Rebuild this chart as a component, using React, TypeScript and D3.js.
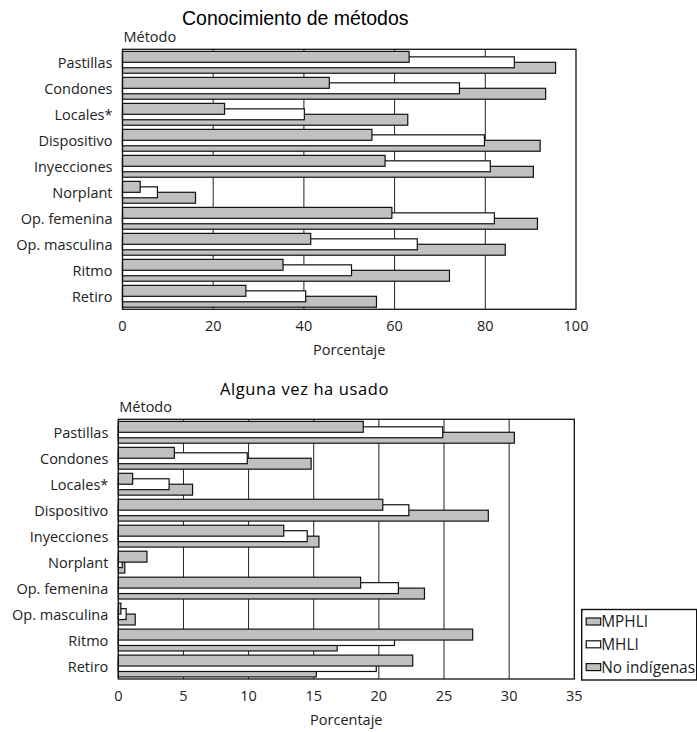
import React from "react";
import * as d3 from "d3";

const categories = [
  "Pastillas",
  "Condones",
  "Locales*",
  "Dispositivo",
  "Inyecciones",
  "Norplant",
  "Op. femenina",
  "Op. masculina",
  "Ritmo",
  "Retiro",
];
const seriesNames = ["MPHLI", "MHLI", "No indígenas"];
const seriesFills = ["#c0c0c0", "#ffffff", "#c0c0c0"];

// Conocimiento de métodos (%)
const knowMPHLI = [63.2, 45.6, 22.5, 55.0, 57.9, 3.9, 59.4, 41.5, 35.4, 27.2];
const knowMHLI = [86.4, 74.3, 40.1, 79.8, 81.1, 7.7, 82.0, 65.0, 50.5, 40.4];
const knowNoInd = [95.5, 93.3, 62.9, 92.1, 90.6, 16.1, 91.5, 84.4, 72.1, 56.0];

// Alguna vez ha usado (%)
const usedMPHLI = [18.8, 4.3, 1.1, 20.3, 12.7, 2.2, 18.6, 0.2, 27.2, 22.6];
const usedMHLI = [24.9, 9.9, 3.9, 22.3, 14.5, 0.3, 21.5, 0.6, 21.2, 19.8];
const usedNoInd = [30.4, 14.8, 5.7, 28.4, 15.4, 0.5, 23.5, 1.3, 16.8, 15.2];

const knowTicks = [0, 20, 40, 60, 80, 100];
const usedTicks = [0, 5, 10, 15, 20, 25, 30, 35];

const LABEL_FONT = "'Open Sans', sans-serif";

type PanelProps = {
  left: number;
  right: number;
  top: number;
  bottom: number;
  max: number;
  ticks: number[];
  series: number[][];
  title: React.ReactNode;
};

function Panel({ left, right, top, bottom, max, ticks, series, title }: PanelProps) {
  const x = d3.scaleLinear().domain([0, max]).range([left, right]);
  const y = d3
    .scaleBand<string>()
    .domain(categories)
    .range([top, bottom])
    .paddingInner(0.16)
    .paddingOuter(0.08);
  const bh = y.bandwidth() / 2;
  // bars overlap by half their height; later series are drawn first
  const order = series.map((_, i) => i).reverse();
  const cx = (left + right) / 2;

  return (
    <g>
      {title}
      <text x={left + 1} y={top - 7.5} fontFamily={LABEL_FONT} fontSize={14.5} fill="#222">
        Método
      </text>
      {ticks.slice(1, -1).map((t) => (
        <line key={t} x1={x(t)} x2={x(t)} y1={top} y2={bottom} stroke="#222" strokeWidth={1} />
      ))}
      {order.map((si) =>
        categories.map((c, ci) => (
          <rect
            key={`${si}-${c}`}
            x={x(0)}
            y={(y(c) as number) + (si * bh) / 2}
            width={x(series[si][ci]) - x(0)}
            height={bh}
            fill={seriesFills[si]}
            stroke="#111"
            strokeWidth={1.2}
          />
        ))
      )}
      <rect
        x={left}
        y={top}
        width={right - left}
        height={bottom - top}
        fill="none"
        stroke="#111"
        strokeWidth={1.3}
      />
      {categories.map((c) => (
        <text
          key={c}
          x={left - 10}
          y={(y(c) as number) + y.bandwidth() / 2 + 5.5}
          textAnchor="end"
          fontFamily={LABEL_FONT}
          fontSize={14.5}
          fill="#222"
        >
          {c}
        </text>
      ))}
      {ticks.map((t) => (
        <text
          key={t}
          x={x(t)}
          y={bottom + 21.6}
          textAnchor="middle"
          fontFamily={LABEL_FONT}
          fontSize={14.5}
          fill="#222"
        >
          {t}
        </text>
      ))}
      <text
        x={cx}
        y={bottom + 46}
        textAnchor="middle"
        fontFamily={LABEL_FONT}
        fontSize={14.5}
        fill="#222"
      >
        Porcentaje
      </text>
    </g>
  );
}

function Legend({ x0, y0 }: { x0: number; y0: number }) {
  return (
    <g>
      <rect x={x0} y={y0} width={115} height={70.5} fill="#fff" stroke="#111" strokeWidth={1.4} />
      {seriesNames.map((n, i) => (
        <g key={n}>
          <rect
            x={x0 + 4.5}
            y={y0 + 8.5 + i * 22.8}
            width={14.5}
            height={7}
            fill={seriesFills[i]}
            stroke="#111"
            strokeWidth={1.2}
          />
          <text
            x={x0 + 19.5}
            y={y0 + 17.5 + i * 22.8}
            fontFamily={LABEL_FONT}
            fontSize={15.4}
            fill="#222"
          >
            {n}
          </text>
        </g>
      ))}
    </g>
  );
}

export default function App() {
  return (
    <svg
      width={697}
      height={732}
      style={{ position: "absolute", left: 0, top: 0, background: "#fff" }}
    >
      <Panel
        left={122.5}
        right={576}
        top={49.3}
        bottom={309.3}
        max={100}
        ticks={knowTicks}
        series={[knowMPHLI, knowMHLI, knowNoInd]}
        title={
          <text
            x={182}
            y={25}
            fontFamily="'Liberation Sans', Arial, sans-serif"
            fontSize={19.5}
            fill="#000"
          >
            Conocimiento de métodos
          </text>
        }
      />
      <Panel
        left={118.3}
        right={574.3}
        top={419.3}
        bottom={679}
        max={35}
        ticks={usedTicks}
        series={[usedMPHLI, usedMHLI, usedNoInd]}
        title={
          <text
            x={220}
            y={395}
            fontFamily={LABEL_FONT}
            fontSize={16.5}
            letterSpacing={0.6}
            fill="#000"
          >
            Alguna vez ha usado
          </text>
        }
      />
      <Legend x0={581.7} y0={609.5} />
    </svg>
  );
}
